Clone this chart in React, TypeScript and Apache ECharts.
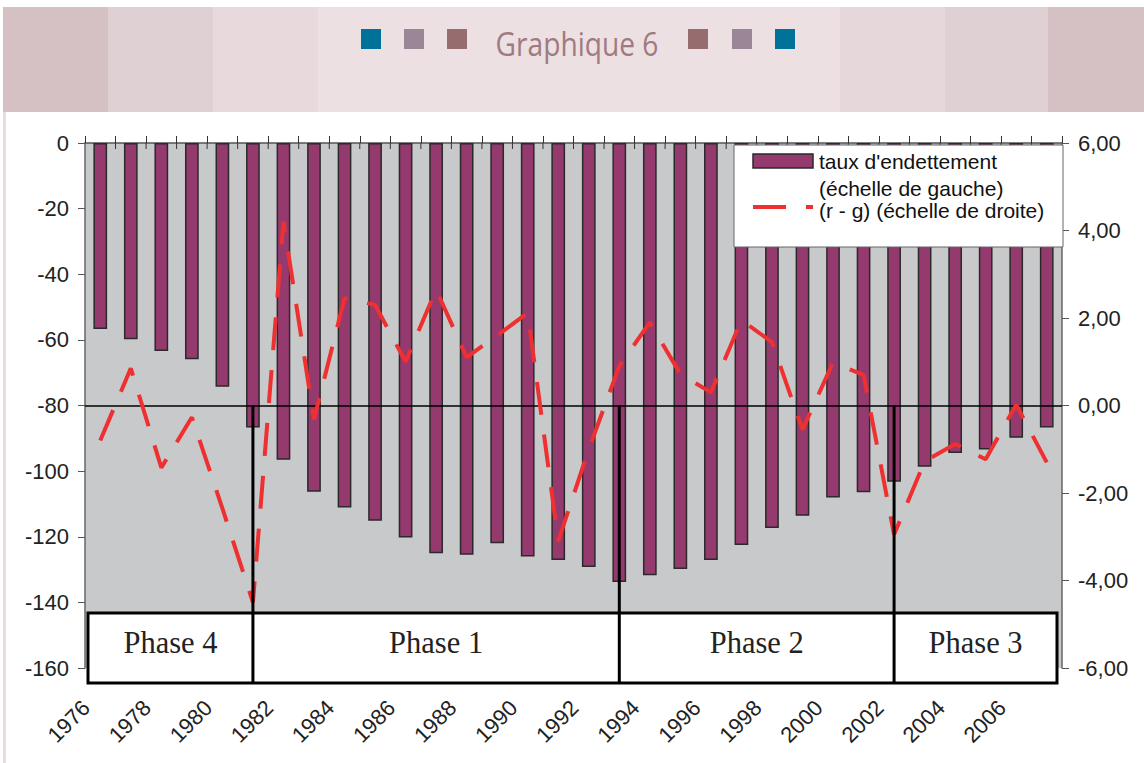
import { useEffect, useRef } from 'react';
import * as echarts from 'echarts';

const years = ['1976', '1977', '1978', '1979', '1980', '1981', '1982', '1983', '1984', '1985', '1986', '1987', '1988', '1989', '1990', '1991', '1992', '1993', '1994', '1995', '1996', '1997', '1998', '1999', '2000', '2001', '2002', '2003', '2004', '2005', '2006', '2007'];
const debtRatio = [-56.7, -59.8, -63.4, -65.9, -74.3, -86.7, -96.5, -106.3, -111.1, -115.1, -120.2, -125.0, -125.5, -122.0, -126.0, -127.1, -129.2, -133.8, -131.7, -129.8, -127.1, -122.5, -117.3, -113.6, -108.0, -106.4, -103.2, -98.7, -94.5, -93.4, -89.8, -86.7];
const rMinusG = [-0.8, 0.85, -1.42, -0.27, -2.35, -4.5, 4.2, -0.32, 2.45, 2.3, 1.0, 2.65, 1.1, 1.6, 2.12, -3.1, -1.0, 0.9, 1.9, 0.72, 0.3, 1.95, 1.45, -0.55, 0.98, 0.7, -2.95, -1.28, -0.88, -1.23, 0.02, -1.3];
const leftAxisRange = [-160, 0, 20];
const rightAxisRange = [-6, 6, 2];
const phaseLabels = ['Phase 4', 'Phase 1', 'Phase 2', 'Phase 3'];
const phaseBreaks = ['1981', '1993', '2002'];
const titleText = 'Graphique 6';
const legendTexts = ["taux d'endettement", '(échelle de gauche)', '(r - g) (échelle de droite)'];

const SANS = '"Liberation Sans", Arial, sans-serif';
const SERIF = '"Liberation Serif", "Times New Roman", serif';
const BAR_COLOR = '#943a6e';
const LINE_COLOR = '#ee3030';
const DASH = [33, 20];

export default function App() {
  const ref = useRef<HTMLDivElement>(null);
  useEffect(() => {
    const chart = echarts.init(ref.current as HTMLDivElement, null, { renderer: 'svg' });
    const G = { left: 85, top: 143, width: 977, height: 525 };
    chart.setOption({
      animation: false,
      backgroundColor: '#ffffff',
      grid: { left: G.left, top: G.top, width: G.width, height: G.height, show: true, backgroundColor: '#c8c9cb', borderWidth: 0 },
      xAxis: [
        {
          type: 'category', data: years, position: 'top', boundaryGap: true,
          axisLine: { show: true, onZero: false, lineStyle: { color: '#555', width: 1.5 } },
          axisTick: { show: true, interval: 0, length: 7, lineStyle: { color: '#333', width: 1 } },
          axisLabel: { show: false },
          splitLine: { show: false },
        },
        {
          type: 'category', data: years, position: 'bottom', boundaryGap: true,
          axisLine: { show: false }, axisTick: { show: false }, splitLine: { show: false },
          axisLabel: { rotate: 45, interval: 1, fontSize: 22, fontFamily: SANS, color: '#222', margin: 22, padding: [0, 20, 0, 0] },
        },
      ],
      yAxis: [
        {
          type: 'value', min: leftAxisRange[0], max: leftAxisRange[1], interval: leftAxisRange[2], position: 'left',
          axisLine: { show: true, onZero: false, lineStyle: { color: '#666', width: 1.5 } },
          axisTick: { show: true, length: 7, lineStyle: { color: '#555' } },
          splitLine: { show: false },
          axisLabel: { fontSize: 22, fontFamily: SANS, color: '#222', margin: 16 },
        },
        {
          type: 'value', min: rightAxisRange[0], max: rightAxisRange[1], interval: rightAxisRange[2], position: 'right',
          axisLine: { show: true, onZero: false, lineStyle: { color: '#666', width: 1.5 } },
          axisTick: { show: true, length: 7, lineStyle: { color: '#555' } },
          splitLine: { show: false },
          axisLabel: { fontSize: 22, fontFamily: SANS, color: '#222', margin: 16, formatter: (v: number) => v.toFixed(2).replace('.', ',') },
        },
      ],
      series: [
        {
          type: 'bar', xAxisIndex: 0, yAxisIndex: 0, data: debtRatio, barWidth: '45%',
          itemStyle: { color: BAR_COLOR, borderColor: '#2a2a2a', borderWidth: 1.5 },
        },
        {
          type: 'line', xAxisIndex: 0, yAxisIndex: 1, data: rMinusG, symbol: 'none', z: 5,
          lineStyle: { color: LINE_COLOR, width: 4, type: DASH },
          markLine: {
            silent: true, symbol: 'none', label: { show: false },
            lineStyle: { color: '#000', width: 1.5, type: 'solid' },
            data: [{ yAxis: 0 }],
          },
        },
      ],
    });

    const xs = phaseBreaks.map((c) => chart.convertToPixel({ xAxisIndex: 0 }, c) as number);
    const y0 = chart.convertToPixel({ yAxisIndex: 1 }, 0) as number;
    const boxL = G.left + 3;
    const boxR = G.left + G.width - 5;
    const boxT = 613;
    const boxB = 683;
    const edges = [boxL, ...xs, boxR];

    const bands = [
      { x: 3, w: 105, c: '#d5c0c3' },
      { x: 108, w: 105, c: '#dfd0d3' },
      { x: 213, w: 105, c: '#e7d9dc' },
      { x: 318, w: 522, c: '#ece0e3' },
      { x: 840, w: 105, c: '#e6d7da' },
      { x: 945, w: 103, c: '#dfd0d3' },
      { x: 1048, w: 96, c: '#d5c0c3' },
    ];
    const squares = [
      { x: 361, c: '#00729a' }, { x: 404, c: '#9b8698' }, { x: 447, c: '#976c6e' },
      { x: 688, c: '#976c6e' }, { x: 732, c: '#9b8698' }, { x: 775, c: '#00729a' },
    ];

    const graphic: any[] = [];
    bands.forEach((b) => graphic.push({ type: 'rect', z: 100, shape: { x: b.x, y: 7, width: b.w, height: 105 }, style: { fill: b.c } }));
    squares.forEach((s) => graphic.push({ type: 'rect', z: 101, shape: { x: s.x, y: 29, width: 20, height: 20 }, style: { fill: s.c } }));
    graphic.push({
      type: 'text', z: 101, x: 577, y: 44, scaleX: 0.88,
      style: { text: titleText, x: 0, y: 0, fill: '#a07a80', font: '32px "Open Sans", "Noto Sans", sans-serif', textAlign: 'center', textVerticalAlign: 'middle' },
    });
    graphic.push({ type: 'rect', z: 100, shape: { x: 3, y: 112, width: 3, height: 651 }, style: { fill: '#eadbe0' } });

    // top axis ticks crossing below the axis line
    years.forEach((_, i) => {
      const bx = G.left + (G.width / years.length) * i;
      if (i > 0) graphic.push({ type: 'line', z: 99, shape: { x1: bx, y1: G.top, x2: bx, y2: G.top + 6 }, style: { stroke: '#333', lineWidth: 1 } });
    });

    // legend
    graphic.push({ type: 'rect', z: 100, shape: { x: 734, y: 145, width: 329, height: 102 }, style: { fill: '#ffffff', stroke: '#666', lineWidth: 1 } });
    graphic.push({ type: 'rect', z: 101, shape: { x: 753, y: 154, width: 60, height: 14 }, style: { fill: BAR_COLOR, stroke: '#2a2a2a', lineWidth: 1.5 } });
    graphic.push({ type: 'polyline', z: 101, shape: { points: [[753, 207], [813, 207]] }, style: { stroke: LINE_COLOR, lineWidth: 4, lineDash: DASH, fill: 'none' } });
    [161, 188, 210].forEach((ty, i) => graphic.push({
      type: 'text', z: 101, x: 819, y: ty,
      style: { text: legendTexts[i], fill: '#111', font: '21px ' + SANS, textAlign: 'left', textVerticalAlign: 'middle' },
    }));

    // phase boxes
    graphic.push({ type: 'rect', z: 100, shape: { x: boxL, y: boxT, width: boxR - boxL, height: boxB - boxT }, style: { fill: '#ffffff', stroke: '#000', lineWidth: 3 } });
    xs.forEach((x) => graphic.push({ type: 'line', z: 101, shape: { x1: x, y1: y0, x2: x, y2: boxB }, style: { stroke: '#000', lineWidth: 3 } }));
    phaseLabels.forEach((lab, i) => graphic.push({
      type: 'text', z: 102, x: (edges[i] + edges[i + 1]) / 2, y: 643,
      style: { text: lab, fill: '#222', font: '30.5px ' + SERIF, textAlign: 'center', textVerticalAlign: 'middle' },
    }));

    chart.setOption({ graphic });
    return () => chart.dispose();
  }, []);
  return <div ref={ref} style={{ position: 'fixed', left: 0, top: 0, width: 1144, height: 763 }} />;
}
